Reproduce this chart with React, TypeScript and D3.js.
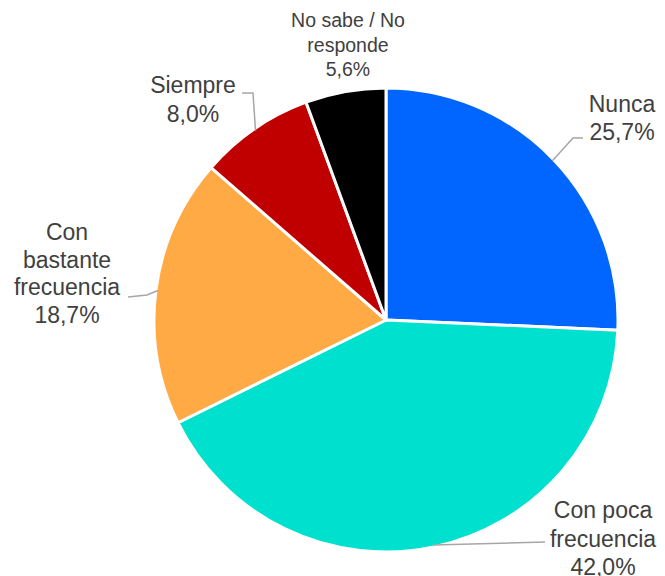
import React from "react";
import * as d3 from "d3";

const categories = ["Nunca", "Con poca frecuencia", "Con bastante frecuencia", "Siempre", "No sabe / No responde"];
const values = [25.7, 42.0, 18.7, 8.0, 5.6];
const colors = ["#0066FF", "#00E0CE", "#FFAA44", "#C00000", "#000000"];
const labelLines = [["Nunca", "25,7%"], ["Con poca", "frecuencia", "42,0%"], ["Con", "bastante", "frecuencia", "18,7%"], ["Siempre", "8,0%"], ["No sabe / No", "responde", "5,6%"]];

// layout: label anchor (center x, first baseline y), font size, leader bend points
const layout = [
  { x: 622, y: 112, fs: 23, lh: 28, leader: [[573, 138], [583, 138]] },
  { x: 603, y: 518, fs: 23, lh: 28.5, leader: [[545, 542]] },
  { x: 67, y: 240, fs: 23, lh: 27.5, leader: [[147, 295], [128, 297]] },
  { x: 193, y: 93, fs: 23, lh: 29, leader: [[253, 93], [242, 93]] },
  { x: 348, y: 27, fs: 19.5, lh: 24.5, leader: null as null | number[][] },
];

export default function App() {
  const W = 665, H = 576;
  const cx = 386, cy = 320, R = 232;
  const pie = d3.pie<number>().sort(null).value((d) => d);
  const arcs = pie(values);
  const arc = d3.arc<d3.PieArcDatum<number>>().innerRadius(0).outerRadius(R);
  return (
    <svg width={W} height={H} style={{ position: "absolute", left: 0, top: 0, fontFamily: "'Liberation Sans', Arial, sans-serif" }}>
      <rect width={W} height={H} fill="#fff" />
      <g transform={`translate(${cx},${cy})`}>
        {arcs.map((a, i) => (
          <path key={i} d={arc(a) || ""} fill={colors[i]} stroke="#fff" strokeWidth={3} strokeLinejoin="round" />
        ))}
      </g>
      {arcs.map((a, i) => {
        const L = layout[i];
        if (!L.leader) return null;
        const mid = (a.startAngle + a.endAngle) / 2;
        const sx = cx + (R - 2) * Math.sin(mid);
        const sy = cy - (R - 2) * Math.cos(mid);
        const pts = [[sx, sy], ...L.leader];
        return <polyline key={"l" + i} points={pts.map((p) => p.join(",")).join(" ")} fill="none" stroke="#A6A6A6" strokeWidth={1.5} />;
      })}
      {labelLines.map((lines, i) => {
        const L = layout[i];
        return (
          <text key={"t" + i} x={L.x} y={L.y} textAnchor="middle" fontSize={L.fs} fill="#404040">
            {lines.map((s, j) => (
              <tspan key={j} x={L.x} y={L.y + j * L.lh}>{s}</tspan>
            ))}
          </text>
        );
      })}
    </svg>
  );
}
